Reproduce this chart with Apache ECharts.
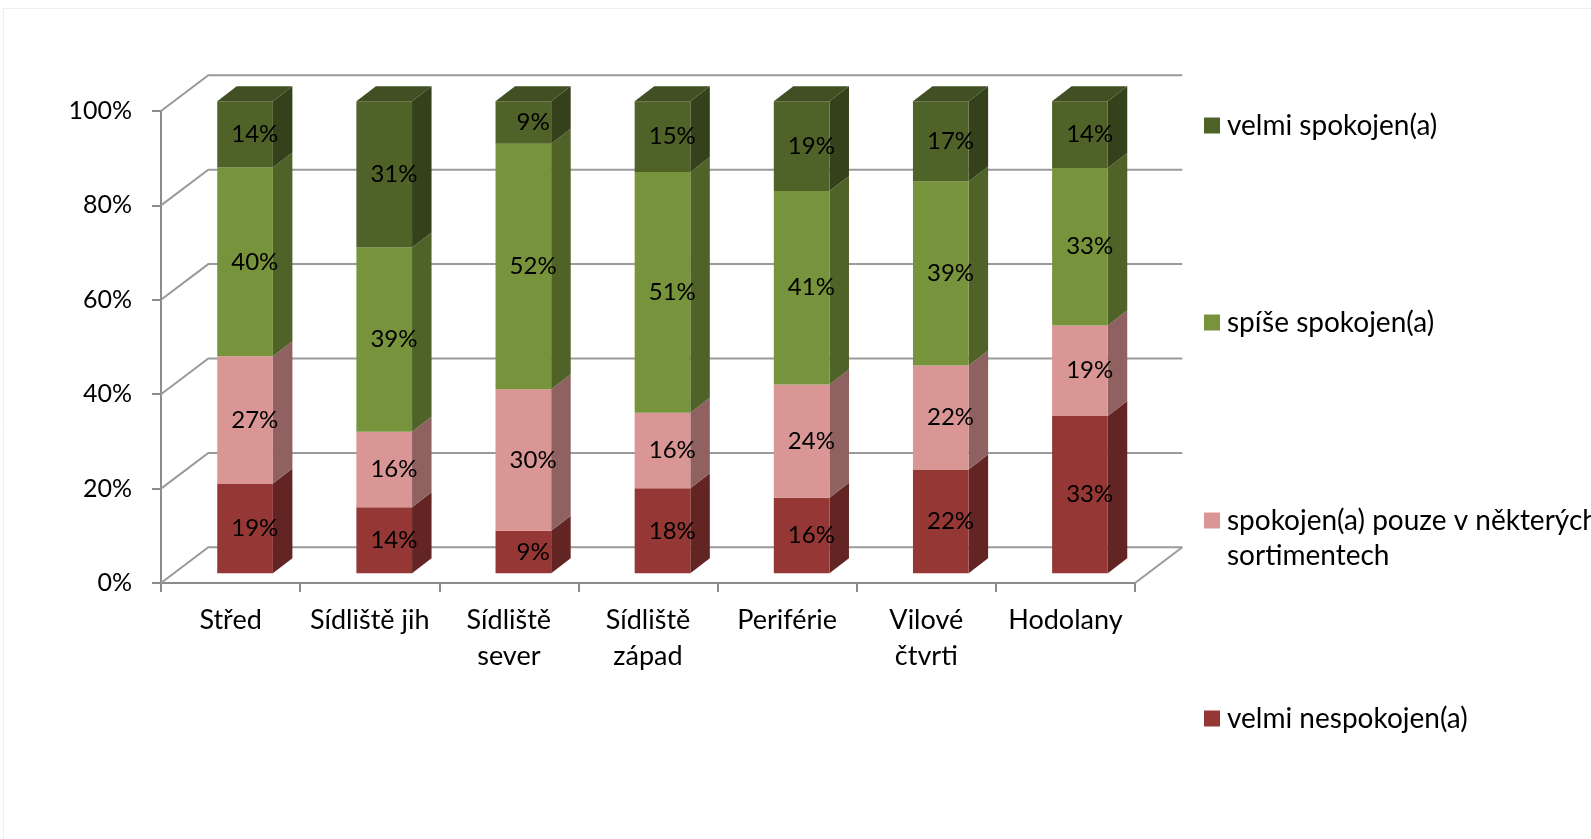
<!DOCTYPE html>
<html>
<head>
<meta charset="utf-8">
<script src="https://cdn.jsdelivr.net/npm/echarts@6/dist/echarts.min.js"></script>
<style>
  html, body { margin: 0; padding: 0; background: #ffffff; }
  #chart { width: 1591px; height: 839px; }
</style>
</head>
<body>
<div id="chart"></div>
<script>
// Spokojenost s nabídkou obchodů podle části města (podíl odpovědí)
const categories = ['Střed', 'Sídliště jih', 'Sídliště\nsever', 'Sídliště\nzápad', 'Periférie', 'Vilové\nčtvrti', 'Hodolany'];

const seriesNames = [
  'velmi nespokojen(a)',
  'spokojen(a) pouze v některých sortimentech',
  'spíše spokojen(a)',
  'velmi spokojen(a)'
];

const velmiNespokojen = [19, 14, 9, 18, 16, 22, 33];
const pouzeNekterych  = [27, 16, 30, 16, 24, 22, 19];
const spiseSpokojen   = [40, 39, 52, 51, 41, 39, 33];
const velmiSpokojen   = [14, 31, 9, 15, 19, 17, 14];

const yTicks = [0, 20, 40, 60, 80, 100];

// ---- styling ----
const FONT = 'Lato';
const faceColors  = ['#953735', '#D99694', '#77933C', '#4F6228'];
const sideColors  = ['#632523', '#8F6160', '#4F6228', '#34411B'];
const topColor    = '#405022';
const GRID_COLOR  = '#9a9a9a';
const AXIS_COLOR  = '#8c8c8c';

// projection of the chart depth (back wall relative to the front axis plane)
const WALL = [47.3, -35.7];
// bar box: front face offset from the front plane and box depth
const BAR_FRONT = [14.5, -9.7];
const BAR_DEPTH = [19.5, -15];
const BAR_WIDTH_RATIO = 0.4;

const allValues = [velmiNespokojen, pouzeNekterych, spiseSpokojen, velmiSpokojen];
const totals = categories.map((_, i) => allValues.reduce((s, arr) => s + arr[i], 0));

// 100 % stacked: segment start/end in percent of each category total
function stackedData(k) {
  return categories.map((_, i) => {
    let lo = 0;
    for (let j = 0; j < k; j++) lo += allValues[j][i];
    const hi = lo + allValues[k][i];
    return [i, lo / totals[i] * 100, hi / totals[i] * 100, allValues[k][i]];
  });
}

function makeRenderSegment(k) {
  const isTop = k === allValues.length - 1;
  return function (params, api) {
    const cat = api.value(0);
    const lo = api.value(1), hi = api.value(2), raw = api.value(3);
    const band = api.size([1, 0])[0];
    const pLo = api.coord([cat, lo]);
    const pHi = api.coord([cat, hi]);
    const w = band * BAR_WIDTH_RATIO;
    const xL = pLo[0] - w / 2 + BAR_FRONT[0];
    const xR = xL + w;
    const yB = pLo[1] + BAR_FRONT[1];
    const yT = pHi[1] + BAR_FRONT[1];
    const dx = BAR_DEPTH[0], dy = BAR_DEPTH[1];
    const children = [
      {
        type: 'polygon',
        shape: { points: [[xR, yB], [xR + dx, yB + dy], [xR + dx, yT + dy], [xR, yT]] },
        style: { fill: sideColors[k] }
      },
      {
        type: 'rect',
        shape: { x: xL, y: yT, width: w, height: yB - yT },
        style: { fill: faceColors[k] }
      }
    ];
    if (isTop) {
      children.push({
        type: 'polygon',
        shape: { points: [[xL, yT], [xR, yT], [xR + dx, yT + dy], [xL + dx, yT + dy]] },
        style: { fill: topColor }
      });
    }
    children.push({
      type: 'text',
      style: {
        text: raw + '%',
        x: (xL + xR) / 2 + dx / 2,
        y: (yT + yB) / 2,
        align: 'center',
        verticalAlign: 'middle',
        fontFamily: FONT,
        fontSize: 24,
        fill: '#000000'
      }
    });
    return { type: 'group', children: children };
  };
}

// back wall, side wall and floor lines
function renderWalls(params, api) {
  const v = api.value(0);
  const cs = params.coordSys;
  const x0 = cs.x, x1 = cs.x + cs.width;
  const y = api.coord([0, v])[1];
  const children = [{
    type: 'polyline',
    shape: { points: [[x0, y], [x0 + WALL[0], y + WALL[1]], [x1 + WALL[0], y + WALL[1]]] },
    style: { stroke: GRID_COLOR, lineWidth: 2, fill: null }
  }];
  if (v === 0) {
    children.push({
      type: 'line',
      shape: { x1: x1, y1: y, x2: x1 + WALL[0], y2: y + WALL[1] },
      style: { stroke: GRID_COLOR, lineWidth: 2 }
    });
  }
  return { type: 'group', children: children };
}

const series = [{
  type: 'custom',
  name: '_walls',
  silent: true,
  z: 1,
  data: yTicks.map(v => [v]),
  encode: { y: 0 },
  renderItem: renderWalls
}];

allValues.forEach((_, k) => {
  series.push({
    type: 'custom',
    name: seriesNames[k],
    z: 2 + k,
    itemStyle: { color: faceColors[k] },
    data: stackedData(k),
    encode: { x: 0, y: [1, 2] },
    renderItem: makeRenderSegment(k)
  });
});

// legend listed from the top segment down
const legendOrder = [3, 2, 1, 0];
const legendTops = [108, 305, 468, 701];
const LEGEND_LINE = 35;

// long names wrap onto a second line; an empty leading line keeps
// the swatch level with the first line of text
function legendLabel(name) {
  const parts = name.split(' sortimentech');
  if (parts.length > 1) {
    return '{pad| }\n{t|' + parts[0] + '}\n{t|sortimentech}';
  }
  return '{t|' + name + '}';
}

const legend = legendOrder.map((k, n) => ({
  data: [seriesNames[k]],
  orient: 'vertical',
  left: 1204,
  top: legendTops[n],
  padding: 0,
  icon: 'rect',
  itemWidth: 16,
  itemHeight: 16,
  formatter: legendLabel,
  textStyle: {
    fontFamily: FONT,
    fontSize: 28,
    lineHeight: LEGEND_LINE,
    color: '#000000',
    rich: {
      pad: { fontFamily: FONT, fontSize: 28, lineHeight: LEGEND_LINE, padding: [0, 0, 0, 2] },
      t: { fontFamily: FONT, fontSize: 28, lineHeight: LEGEND_LINE, color: '#000000', padding: [0, 0, 0, 2] }
    }
  }
}));

const chart = echarts.init(document.getElementById('chart'), null, { renderer: 'canvas' });
chart.setOption({
  backgroundColor: '#ffffff',
  animation: false,
  graphic: [{
    type: 'rect',
    shape: { x: 3.5, y: 8.5, width: 1620, height: 900 },
    style: { fill: null, stroke: '#efefef', lineWidth: 1 },
    silent: true,
    z: -10
  }],
  legend: legend,
  grid: { left: 161, top: 111, width: 974, height: 472, containLabel: false },
  xAxis: {
    type: 'category',
    data: categories,
    boundaryGap: true,
    axisLine: { show: true, lineStyle: { color: AXIS_COLOR, width: 2 } },
    axisTick: { show: true, length: 9, interval: 0, lineStyle: { color: AXIS_COLOR, width: 2 } },
    axisLabel: {
      interval: 0,
      margin: 19,
      fontFamily: FONT,
      fontSize: 27,
      lineHeight: 36,
      color: '#000000'
    },
    splitLine: { show: false }
  },
  yAxis: {
    type: 'value',
    min: 0,
    max: 100,
    interval: 20,
    axisLine: { show: true, lineStyle: { color: AXIS_COLOR, width: 2 } },
    axisTick: { show: true, length: 9, lineStyle: { color: AXIS_COLOR, width: 2 } },
    axisLabel: {
      formatter: '{value}%',
      margin: 29,
      fontFamily: FONT,
      fontSize: 25,
      color: '#000000'
    },
    splitLine: { show: false }
  },
  series: series
});
</script>
</body>
</html>
